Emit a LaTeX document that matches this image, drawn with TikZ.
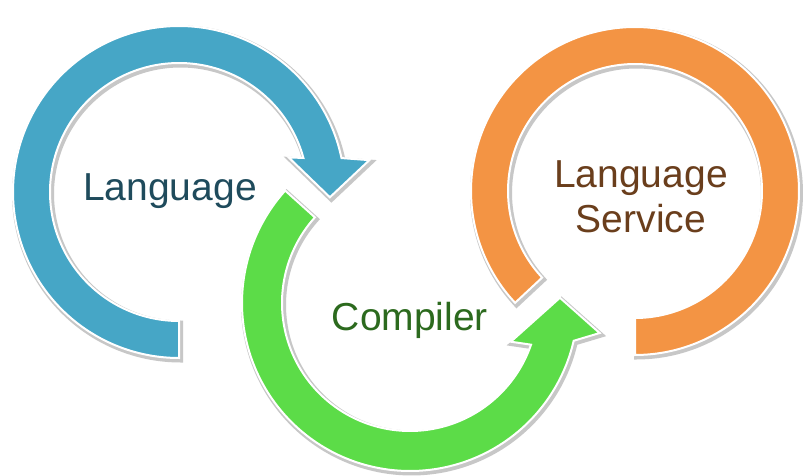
\documentclass[tikz,border=0pt]{standalone}
\usepackage{fontspec}
\setmainfont{Liberation Sans}
\definecolor{ringblue}{HTML}{46A6C6}
\definecolor{ringgreen}{HTML}{5CDC48}
\definecolor{ringorange}{HTML}{F39444}
\definecolor{txtblue}{HTML}{1F4B5C}
\definecolor{txtgreen}{HTML}{2C6A1E}
\definecolor{txtbrown}{HTML}{6A3E1C}
% Ring arrow outlines (image-style coordinates: x right, y down)
\newcommand\pathBlueRing{%
  plot[smooth,domain=90:348.2,samples=80] ({179+166*cos(\x)},{192+166*sin(\x)})
  -- ({179+193*cos(350.5)},{192+193*sin(350.5)})
  -- ({179+151*cos(362)},{192+151*sin(362)})
  -- ({179+115*cos(342.5)},{192+115*sin(342.5)})
  -- plot[smooth,domain=344.7:90,samples=80] ({179+129*cos(\x)},{192+129*sin(\x)})
  -- cycle}
\newcommand\pathGreenRing{%
  plot[smooth,domain=222:13,samples=80] ({410+168*cos(\x)},{303+168*sin(\x)})
  -- ({410+192*cos(9)},{303+192*sin(9)})
  -- ({410+150*cos(-2)},{303+150*sin(-2)})
  -- ({410+108*cos(21)},{303+108*sin(21)})
  -- plot[smooth,domain=19:222,samples=80] ({410+128*cos(\x)},{303+128*sin(\x)})
  -- cycle}
\newcommand\pathOrangeRing{%
  plot[smooth,domain=137:450,samples=90] ({635+164*cos(\x)},{191+164*sin(\x)})
  -- plot[smooth,domain=450:137,samples=90] ({635+127*cos(\x)},{191+127*sin(\x)})
  -- cycle}
\tikzset{
  ringshadow/.style={draw=black!22,line width=5pt,line join=miter},
  ringbody/.style={fill=#1,draw=white,line width=2pt,line join=miter},
  lbl/.style={anchor=base,inner sep=0pt,font=\fontsize{39}{45}\selectfont}
}
\begin{document}
\begin{tikzpicture}[x=1pt,y=-1pt]
  \useasboundingbox[fill=white] (0,0) rectangle (805,476);
  % soft shadows under the three ring arrows
  \begin{scope}[shift={(1.5,2)}]
    \path[ringshadow] \pathOrangeRing;
  \end{scope}
  \path[ringbody=ringorange] \pathOrangeRing;
  \begin{scope}[shift={(1.5,2)}]
    \path[ringshadow] \pathBlueRing;
  \end{scope}
  \path[ringbody=ringblue] \pathBlueRing;
  \begin{scope}[shift={(1.5,2)}]
    \path[ringshadow] \pathGreenRing;
  \end{scope}
  \path[ringbody=ringgreen] \pathGreenRing;
  % labels
  \node[lbl,text=txtblue] (lang) at (170,200) {Language};
  \node[lbl,text=txtgreen] (comp) at (410,330) {Compiler};
  \node[lbl,text=txtbrown] (svcA) at (641,187) {Language};
  \node[lbl,text=txtbrown] (svcB) at (641,232) {Service};
\end{tikzpicture}
\end{document}
